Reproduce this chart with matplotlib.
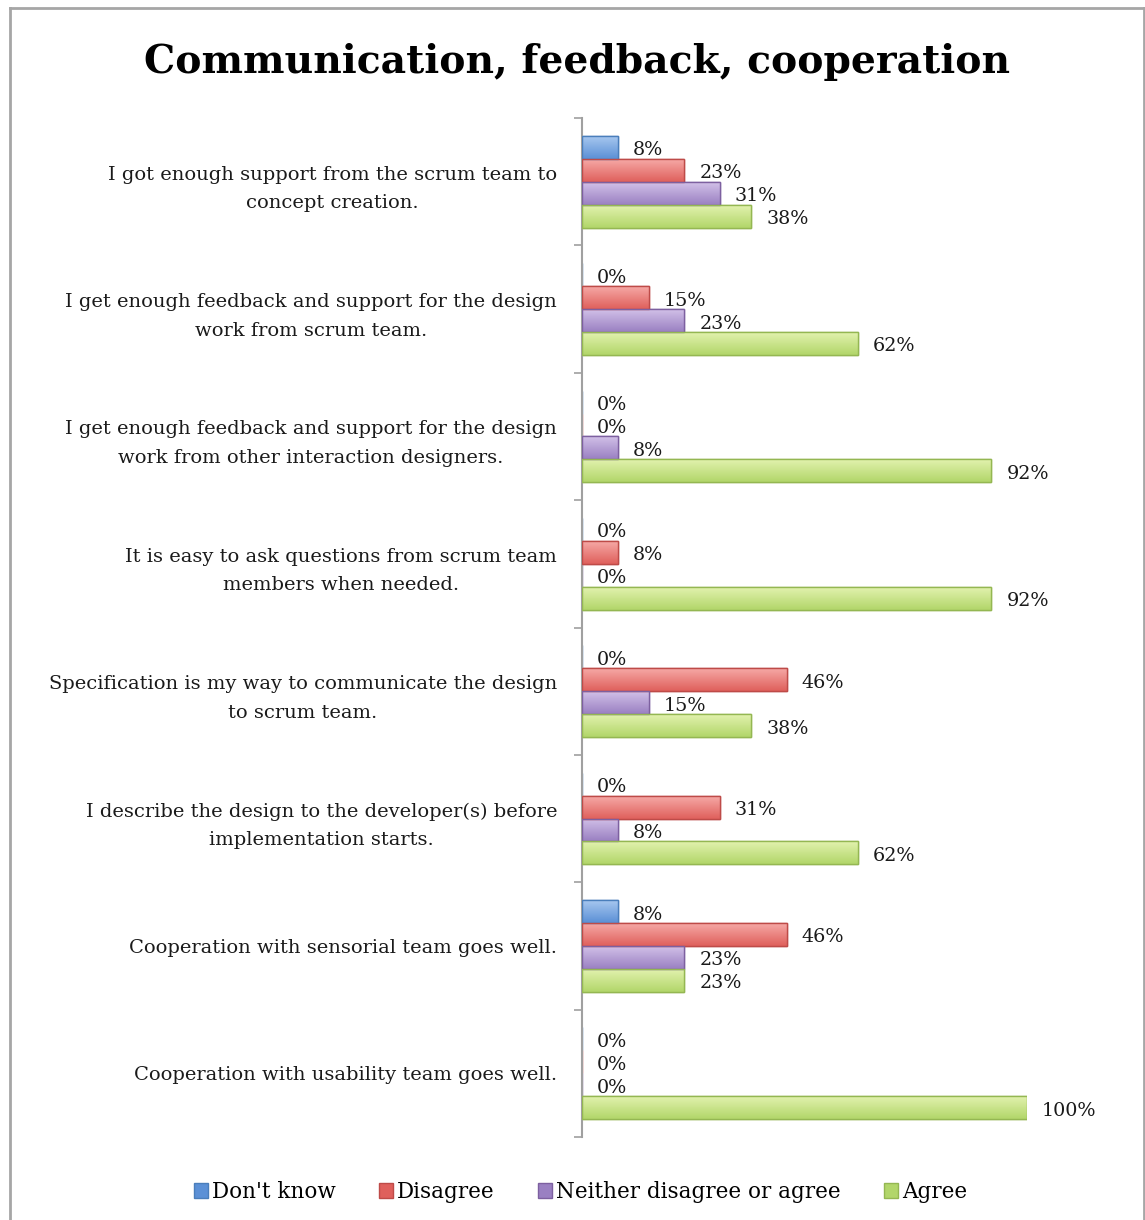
import numpy as np
import matplotlib.pyplot as plt
from matplotlib.colors import LinearSegmentedColormap
from matplotlib.patches import Patch

statements = [
    "I got enough support from the scrum team to\nconcept creation.",
    "I get enough feedback and support for the design\nwork from scrum team.",
    "I get enough feedback and support for the design\nwork from other interaction designers.",
    "It is easy to ask questions from scrum team\nmembers when needed.",
    "Specification is my way to communicate the design\nto scrum team.",
    "I describe the design to the developer(s) before\nimplementation starts.",
    "Cooperation with sensorial team goes well.",
    "Cooperation with usability team goes well.",
]
series_names = ["Don't know", "Disagree", "Neither disagree or agree", "Agree"]
dont_know = [8, 0, 0, 0, 0, 0, 8, 0]
disagree = [23, 15, 0, 8, 46, 31, 46, 0]
neither = [31, 23, 8, 0, 15, 8, 23, 0]
agree = [38, 62, 92, 92, 38, 62, 23, 100]

# (top of gradient, bottom of gradient, edge)
palette = [
    ("#a7c7ef", "#5b90d6", "#4a7ebb"),
    ("#f6a9a6", "#df605c", "#be4b48"),
    ("#d2c1e8", "#9a80c2", "#7d60a0"),
    ("#e2f2ae", "#b2d66a", "#94b752"),
]

plt.rcParams["font.family"] = "DejaVu Serif"

fig = plt.figure(figsize=(11.45, 12.2), dpi=100)
ax = fig.add_axes([582 / 1145, 1 - 1137 / 1220, 445 / 1145, 1019 / 1220])

# outer frame (no bottom edge)
for xs, ys in [((10, 10), (8, 1220)), ((10, 1144), (8, 8)), ((1144, 1144), (8, 1220))]:
    fig.add_artist(plt.Line2D([x / 1145 for x in xs], [1 - y / 1220 for y in ys],
                              transform=fig.transFigure, color="#a6a6a6", lw=2))

data = [dont_know, disagree, neither, agree]
y = np.arange(len(statements))
bar_h = 0.18
offsets = [-0.27, -0.09, 0.09, 0.27]

ax.set_xlim(0, 100)
ax.set_ylim(len(statements) - 0.5, -0.5)

for vals, off, (c_top, c_bot, c_edge) in zip(data, offsets, palette):
    vals = np.array(vals, dtype=float)
    bars = ax.barh(y + off, vals, height=bar_h, color=c_bot,
                   edgecolor=c_edge, linewidth=1.0, zorder=2)
    cmap = LinearSegmentedColormap.from_list("g", [c_top, c_bot])
    grad = np.linspace(0, 1, 64).reshape(-1, 1)
    for b, v in zip(bars, vals):
        if v > 0:
            x0, y0 = b.get_x(), b.get_y()
            im = ax.imshow(grad, cmap=cmap, aspect="auto", zorder=2.5,
                           extent=(x0, x0 + b.get_width(), y0 + b.get_height(), y0),
                           interpolation="bilinear")
            im.set_clip_path(b)
            # redraw outline above the gradient
            ax.barh(b.get_y() + b.get_height() / 2, b.get_width(), height=bar_h,
                    fill=False, edgecolor=c_edge, linewidth=1.0, zorder=3)
        ax.annotate(f"{int(v)}%", (b.get_width(), b.get_y() + b.get_height() / 2),
                    xytext=(15, -3), textcoords="offset pixels",
                    ha="left", va="center", fontsize=13.8, color="#1a1a1a",
                    annotation_clip=False, zorder=4)

ax.set_xlim(0, 100)
ax.set_ylim(len(statements) - 0.5, -0.5)

ax.set_yticks(y)
ax.set_yticklabels(statements, fontsize=14, color="#1a1a1a", linespacing=1.75)
for lab in ax.get_yticklabels():
    lab.set_multialignment("center")
ax.tick_params(axis="y", which="major", length=0, pad=18)
ax.set_yticks(np.arange(len(statements) + 1) - 0.5, minor=True)
ax.tick_params(axis="y", which="minor", length=6, width=1.2, color="#a0a0a0", direction="out")
ax.set_xticks([])
for side in ["top", "right", "bottom"]:
    ax.spines[side].set_visible(False)
ax.spines["left"].set_color("#a0a0a0")
ax.spines["left"].set_linewidth(1.5)

fig.text(0.504, 0.949, "Communication, feedback, cooperation", ha="center", va="center",
         fontsize=28.3, fontweight="bold", color="black")

handles = [Patch(facecolor=c_bot, edgecolor=c_edge, label=name)
           for name, (c_top, c_bot, c_edge) in zip(series_names, palette)]
fig.legend(handles=handles, loc="center", bbox_to_anchor=(0.507, 1 - 1192 / 1220), ncol=4,
           frameon=False, fontsize=15.5, handlelength=0.65, handleheight=0.65,
           handletextpad=0.2, columnspacing=2.0)

fig.savefig("out.png", dpi=100)
